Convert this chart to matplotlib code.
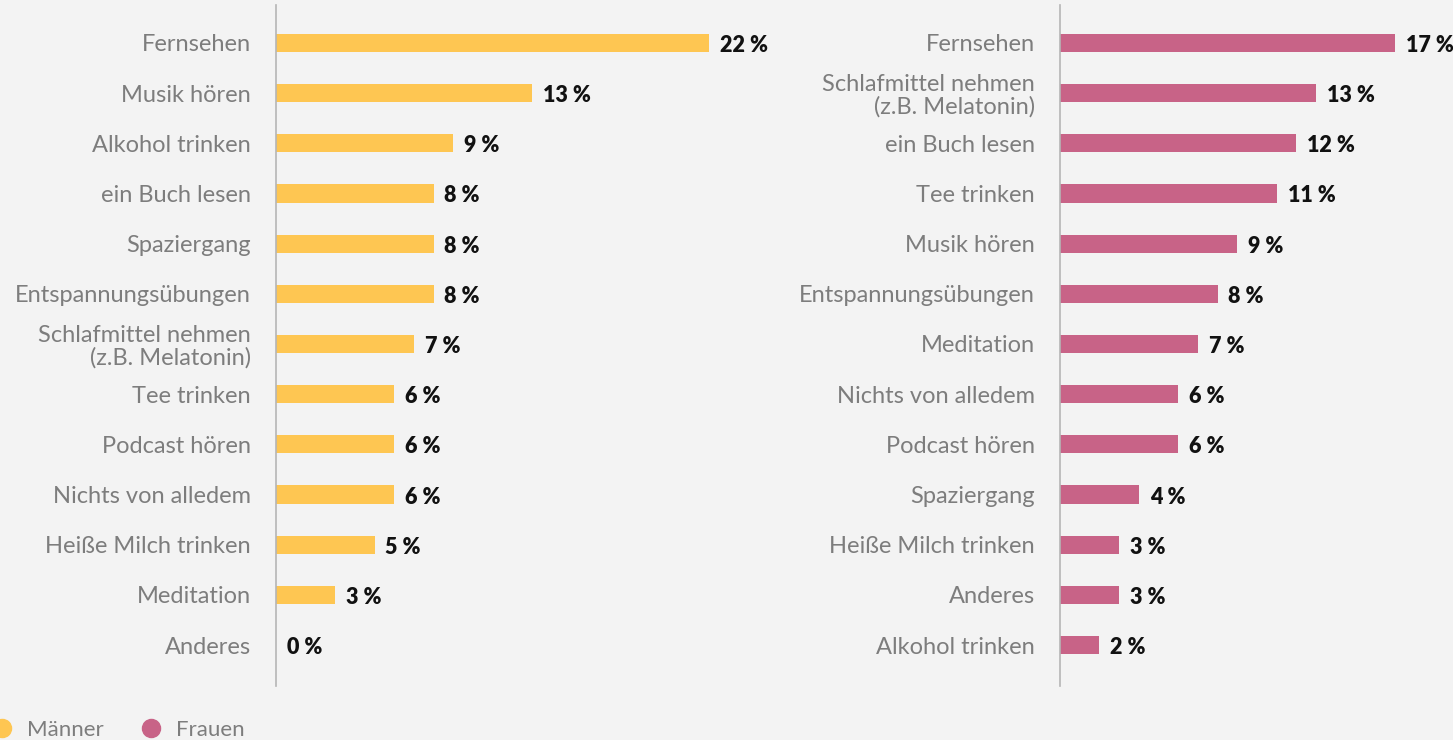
import matplotlib.pyplot as plt
from matplotlib.lines import Line2D

maenner_labels = ["Fernsehen", "Musik hören", "Alkohol trinken", "ein Buch lesen", "Spaziergang",
                  "Entspannungsübungen", "Schlafmittel nehmen\n(z.B. Melatonin)", "Tee trinken",
                  "Podcast hören", "Nichts von alledem", "Heiße Milch trinken", "Meditation", "Anderes"]
maenner_values = [22, 13, 9, 8, 8, 8, 7, 6, 6, 6, 5, 3, 0]

frauen_labels = ["Fernsehen", "Schlafmittel nehmen\n(z.B. Melatonin)", "ein Buch lesen", "Tee trinken",
                 "Musik hören", "Entspannungsübungen", "Meditation", "Nichts von alledem",
                 "Podcast hören", "Spaziergang", "Heiße Milch trinken", "Anderes", "Alkohol trinken"]
frauen_values = [17, 13, 12, 11, 9, 8, 7, 6, 6, 4, 3, 3, 2]

bg = "#f3f3f3"
yellow = "#fec652"
pink = "#c86387"
label_col = "#7d7d7d"
font = "Lato"

W, H = 1453, 740
fig = plt.figure(figsize=(W / 100, H / 100), dpi=100, facecolor=bg)

px_per_unit = 19.7
ax_bottom = (H - 686) / H
ax_height = (686 - 5) / H


def panel(x0, width_px, labels, values, color):
    ax = fig.add_axes([x0 / W, ax_bottom, width_px / W, ax_height])
    ax.set_facecolor(bg)
    ax.patch.set_alpha(0)
    y = list(range(len(values)))
    ax.barh(y, values, height=0.36, color=color)
    ax.set_xlim(0, width_px / px_per_unit)
    ax.set_ylim(12.817, -0.757)
    for s in ["top", "right", "bottom"]:
        ax.spines[s].set_visible(False)
    ax.spines["left"].set_color("#b5b5b5")
    ax.spines["left"].set_linewidth(1.2)
    ax.set_xticks([])
    ax.set_yticks(y)
    ax.set_yticklabels(labels, fontsize=17, color=label_col, family=font, linespacing=1.05)
    ax.tick_params(axis="y", length=0, pad=18)
    for yi, v in zip(y, values):
        ax.text(v + 0.55, yi + 0.05, f"{v} %", va="center", ha="left", fontsize=15.5,
                fontweight="heavy", color="#111111", family=font, clip_on=False)
    return ax


panel(276, 500, maenner_labels, maenner_values, yellow)
panel(1060, 393, frauen_labels, frauen_values, pink)

handles = [Line2D([], [], marker="o", ls="none", markersize=13, color=yellow),
           Line2D([], [], marker="o", ls="none", markersize=13, color=pink)]
leg = fig.legend(handles, ["Männer", "Frauen"], loc="lower left", bbox_to_anchor=(-0.020, -0.027),
                 ncol=2, frameon=False, handlelength=1.0, handletextpad=0.62, columnspacing=1.62,
                 prop={"family": font, "size": 16}, labelcolor=label_col)

fig.savefig("out.png", dpi=100, facecolor=bg)
